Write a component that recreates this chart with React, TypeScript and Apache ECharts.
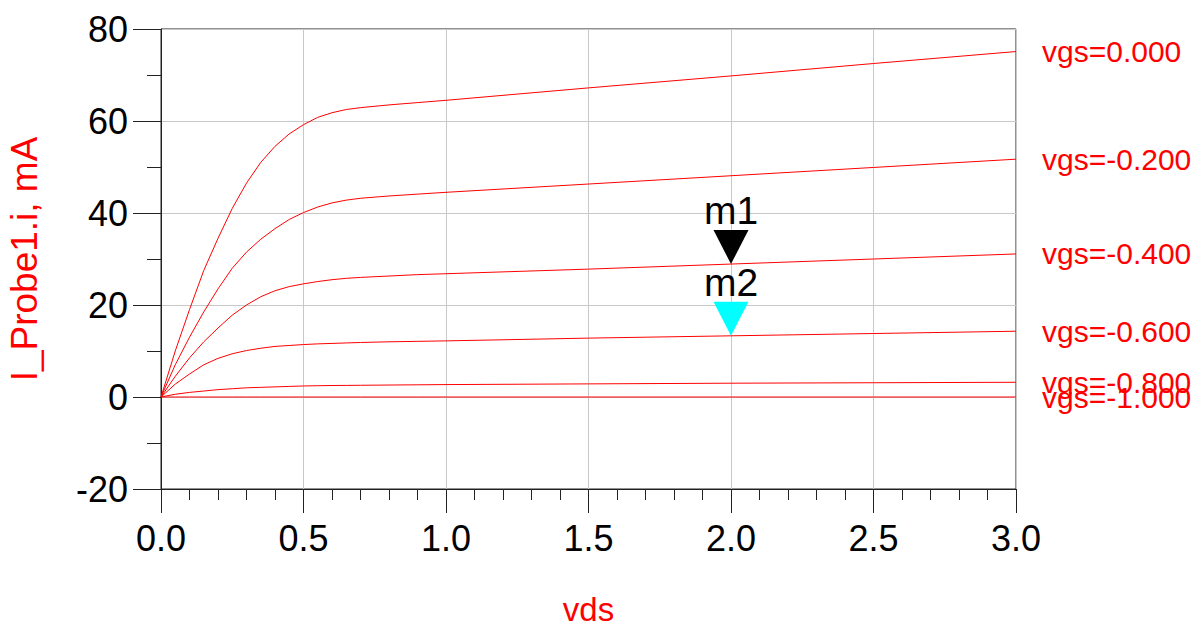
import React, { useEffect, useRef } from "react";
import * as echarts from "echarts";

const vds = [0, 0.05, 0.1, 0.15, 0.2, 0.25, 0.3, 0.35, 0.4, 0.45, 0.5, 0.55, 0.6, 0.65, 0.7, 0.8, 0.9, 1.0, 1.5, 2.0, 2.5, 3.0];
const vgsNames = ["vgs=0.000", "vgs=-0.200", "vgs=-0.400", "vgs=-0.600", "vgs=-0.800", "vgs=-1.000"];
const id_vgs0 = [0, 10, 19, 27.5, 34.5, 41, 46.5, 51, 54.5, 57.2, 59.2, 60.8, 61.8, 62.5, 62.9, 63.5, 64.0, 64.5, 67.2, 69.8, 72.5, 75.1];
const id_vgs02 = [0, 7, 13, 18.5, 23.5, 28, 31.5, 34.3, 36.6, 38.6, 40.1, 41.3, 42.2, 42.8, 43.2, 43.7, 44.1, 44.5, 46.3, 48.1, 49.9, 51.7];
const id_vgs04 = [0, 4.5, 8.5, 12, 15, 17.8, 20, 21.8, 23.1, 24, 24.6, 25.1, 25.5, 25.8, 26.0, 26.3, 26.6, 26.8, 27.8, 28.9, 30, 31.1];
const id_vgs06 = [0, 2.8, 5, 7, 8.4, 9.4, 10.1, 10.6, 11, 11.2, 11.4, 11.55, 11.65, 11.75, 11.85, 12.0, 12.1, 12.2, 12.8, 13.3, 13.8, 14.3];
const id_vgs08 = [0, 0.6, 1, 1.3, 1.6, 1.8, 2, 2.1, 2.2, 2.3, 2.4, 2.45, 2.5, 2.52, 2.55, 2.6, 2.65, 2.7, 2.85, 3.0, 3.1, 3.2];
const id_vgs10 = [0, 0, 0, 0, 0, 0, 0, 0, 0, 0, 0, 0, 0, 0, 0, 0, 0, 0, 0, 0, 0, 0];
const curves = [id_vgs0, id_vgs02, id_vgs04, id_vgs06, id_vgs08, id_vgs10];

const markerNames = ["m1", "m2"];
const markerX = [2.0, 2.0];
const markerY = [28.9, 13.3];
const markerColors = ["#000000", "#00ffff"];

const FONT = "Liberation Sans, Arial, sans-serif";
const RED = "#ff0000";

export default function App() {
  const ref = useRef<HTMLDivElement>(null);
  useEffect(() => {
    if (!ref.current) return;
    const chart = echarts.init(ref.current, null, { renderer: "svg" });
    const lineSeries = curves.map((vals, i) => ({
      type: "line",
      name: vgsNames[i],
      data: vds.map((x, j) => [x, vals[j]]),
      showSymbol: false,
      smooth: false,
      lineStyle: { color: RED, width: 1 },
      itemStyle: { color: RED },
      z: 2,
      endLabel: {
        show: true,
        formatter: vgsNames[i],
        color: RED,
        fontSize: 30,
        fontFamily: FONT,
        distance: 26,
      },
    }));
    const markerSeries = markerNames.map((nm, i) => ({
      type: "scatter",
      name: nm,
      data: [[markerX[i], markerY[i]]],
      symbol: "path://M0,0L2,0L1,2Z",
      symbolSize: [35, 34],
      symbolOffset: [0, "-50%"],
      itemStyle: { color: markerColors[i], opacity: 1 },
      z: 5,
      label: {
        show: true,
        position: "top",
        distance: 0,
        formatter: nm,
        color: "#000",
        fontSize: 39,
        fontFamily: FONT,
      },
    }));
    chart.setOption({
      animation: false,
      backgroundColor: "#ffffff",
      textStyle: { fontFamily: FONT },
      grid: {
        left: 161,
        right: 187,
        top: 29,
        height: 460,
        containLabel: false,
        outerBoundsMode: "none",
        show: true,
        borderColor: "#222",
        borderWidth: 1,
        backgroundColor: "transparent",
      },
      xAxis: {
        type: "value",
        min: 0,
        max: 3,
        interval: 0.5,
        name: "vds",
        nameLocation: "middle",
        nameGap: 104,
        nameTextStyle: { color: RED, fontSize: 33, fontFamily: FONT },
        axisLine: { show: true, onZero: false, lineStyle: { color: "#222", width: 1 } },
        axisTick: { show: true, length: 24, lineStyle: { color: "#222" } },
        minorTick: { show: true, splitNumber: 5, length: 11, lineStyle: { color: "#222" } },
        splitLine: { show: true, lineStyle: { color: "#c8c8c8", width: 1 } },
        axisLabel: {
          color: "#000",
          fontSize: 36,
          fontFamily: FONT,
          margin: 31,
          formatter: (v: number) => v.toFixed(1),
        },
      },
      yAxis: {
        type: "value",
        min: -20,
        max: 80,
        interval: 20,
        name: "I_Probe1.i, mA",
        nameLocation: "middle",
        nameGap: 118,
        nameRotate: 90,
        nameTextStyle: { color: RED, fontSize: 37, fontFamily: FONT },
        axisLine: { show: true, onZero: false, lineStyle: { color: "#222", width: 1 } },
        axisTick: { show: true, length: 28, lineStyle: { color: "#222" } },
        minorTick: { show: true, splitNumber: 2, length: 14, lineStyle: { color: "#222" } },
        splitLine: { show: true, lineStyle: { color: "#c8c8c8", width: 1 } },
        axisLabel: {
          color: "#000",
          fontSize: 36,
          fontFamily: FONT,
          margin: 33,
        },
      },
      series: [...lineSeries, ...markerSeries],
    });
    return () => chart.dispose();
  }, []);
  return (
    <div
      ref={ref}
      style={{ position: "fixed", left: 0, top: 0, width: 1203, height: 631, background: "#fff" }}
    />
  );
}
